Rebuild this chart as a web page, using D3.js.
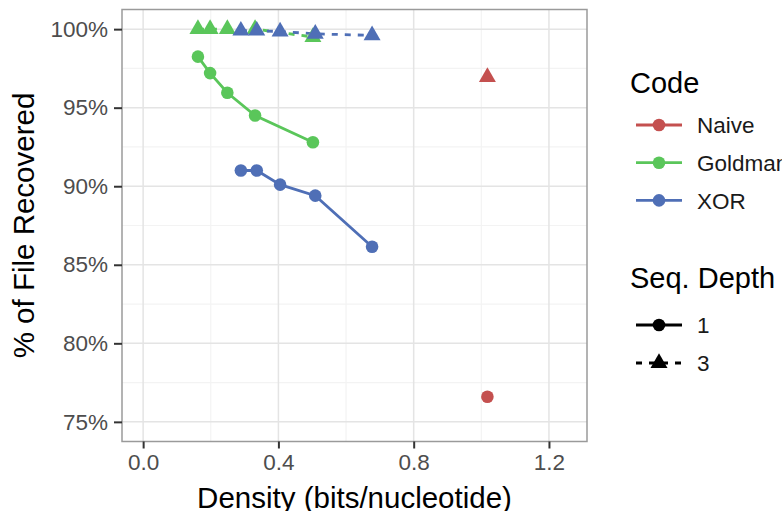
<!DOCTYPE html>
<html>
<head>
<meta charset="utf-8">
<script src="https://cdn.jsdelivr.net/npm/d3@7"></script>
<style>
  body { margin: 0; background: #fff; }
  svg { display: block; font-family: "Liberation Sans", Arial, Helvetica, sans-serif; }
</style>
</head>
<body>
<svg id="chart" width="782" height="511"></svg>
<script>
// Values
const codes = ["Naive", "Goldman", "XOR"];
const depths = ["1", "3"];

const naiveDensity = [1.018];
const naiveDepth1 = [76.6];
const naiveDepth3 = [96.95];

const goldmanDensity = [0.162, 0.198, 0.249, 0.331, 0.502];
const goldmanDepth1 = [98.25, 97.2, 95.95, 94.5, 92.8];
const goldmanDepth3 = [100, 100, 100, 100, 99.5];

const xorDensity = [0.289, 0.336, 0.405, 0.509, 0.677];
const xorDepth1 = [91.0, 91.0, 90.1, 89.4, 86.15];
const xorDepth3 = [99.9, 99.9, 99.85, 99.7, 99.6];

const xTicks = [0, 0.4, 0.8, 1.2];
const xMinor = [0.2, 0.6, 1.0];
const yTicks = [75, 80, 85, 90, 95, 100];
const yMinor = [77.5, 82.5, 87.5, 92.5, 97.5];

// build series (one per code x depth)
const series = [
  { code: "Naive", depth: "1", x: naiveDensity, y: naiveDepth1 },
  { code: "Naive", depth: "3", x: naiveDensity, y: naiveDepth3 },
  { code: "Goldman", depth: "1", x: goldmanDensity, y: goldmanDepth1 },
  { code: "Goldman", depth: "3", x: goldmanDensity, y: goldmanDepth3 },
  { code: "XOR", depth: "1", x: xorDensity, y: xorDepth1 },
  { code: "XOR", depth: "3", x: xorDensity, y: xorDepth3 }
].map(s => ({ ...s, points: s.x.map((v, i) => ({ x: v, y: s.y[i] })) }));

const panel = { left: 122, right: 587, top: 9.5, bottom: 441.5 };

const svg = d3.select("#chart");

// limits 0..1.25 and 75..100 with ggplot's 5% expansion
const xScale = d3.scaleLinear()
  .domain([0 - 0.0625, 1.25 + 0.0625])
  .range([panel.left, panel.right]);
const yScale = d3.scaleLinear()
  .domain([75 - 1.25, 100 + 1.25])
  .range([panel.bottom, panel.top]);

const color = d3.scaleOrdinal()
  .domain(codes)
  .range(["#c4504f", "#5ac65a", "#4f6fb6"]);

const dash = d3.scaleOrdinal()
  .domain(depths)
  .range([null, "6,7"]);

// gridlines
const grid = svg.append("g");
grid.selectAll("line.xminor").data(xMinor).join("line")
  .attr("x1", d => xScale(d)).attr("x2", d => xScale(d))
  .attr("y1", panel.top).attr("y2", panel.bottom)
  .attr("stroke", "#f3f3f3").attr("stroke-width", 1.2);
grid.selectAll("line.yminor").data(yMinor).join("line")
  .attr("y1", d => yScale(d)).attr("y2", d => yScale(d))
  .attr("x1", panel.left).attr("x2", panel.right)
  .attr("stroke", "#f3f3f3").attr("stroke-width", 1.2);
grid.selectAll("line.xmajor").data(xTicks).join("line")
  .attr("x1", d => xScale(d)).attr("x2", d => xScale(d))
  .attr("y1", panel.top).attr("y2", panel.bottom)
  .attr("stroke", "#e4e4e4").attr("stroke-width", 1.5);
grid.selectAll("line.ymajor").data(yTicks).join("line")
  .attr("y1", d => yScale(d)).attr("y2", d => yScale(d))
  .attr("x1", panel.left).attr("x2", panel.right)
  .attr("stroke", "#e4e4e4").attr("stroke-width", 1.5);

// lines
const line = d3.line().x(d => xScale(d.x)).y(d => yScale(d.y));
svg.append("g").selectAll("path")
  .data(series.filter(s => s.points.length > 1))
  .join("path")
    .attr("d", s => line(s.points))
    .attr("fill", "none")
    .attr("stroke", s => color(s.code))
    .attr("stroke-width", 2.8)
    .attr("stroke-dasharray", s => dash(s.depth));

// points
const triangle = d3.symbol().type(d3.symbolTriangle).size(125);
const pts = svg.append("g");
series.forEach(s => {
  s.points.forEach(p => {
    if (s.depth === "1") {
      pts.append("circle")
        .attr("cx", xScale(p.x)).attr("cy", yScale(p.y))
        .attr("r", 6.3)
        .attr("fill", color(s.code));
    } else {
      pts.append("path")
        .attr("d", triangle())
        .attr("transform", `translate(${xScale(p.x)},${yScale(p.y)})`)
        .attr("fill", color(s.code));
    }
  });
});

// panel border
svg.append("rect")
  .attr("x", panel.left).attr("y", panel.top)
  .attr("width", panel.right - panel.left)
  .attr("height", panel.bottom - panel.top)
  .attr("fill", "none")
  .attr("stroke", "#9a9a9a")
  .attr("stroke-width", 1.5);

// axes
const xAxis = svg.append("g")
  .attr("transform", `translate(0,${panel.bottom})`)
  .call(d3.axisBottom(xScale).tickValues(xTicks).tickFormat(d3.format(".1f")).tickSize(7).tickPadding(6));
const yAxis = svg.append("g")
  .attr("transform", `translate(${panel.left},0)`)
  .call(d3.axisLeft(yScale).tickValues(yTicks).tickFormat(d => d + "%").tickSize(8).tickPadding(6));

[xAxis, yAxis].forEach(a => {
  a.select(".domain").remove();
  a.selectAll(".tick line").attr("stroke", "#333").attr("stroke-width", 2);
  a.selectAll(".tick text")
    .attr("fill", "#4d4d4d")
    .style("font-size", "22.5px")
    .style("font-family", "'Liberation Sans', Arial, sans-serif");
});

// axis titles
svg.append("text")
  .attr("x", (panel.left + panel.right) / 2)
  .attr("y", 508)
  .attr("text-anchor", "middle")
  .style("font-size", "29.5px")
  .attr("fill", "#000")
  .text("Density (bits/nucleotide)");

svg.append("text")
  .attr("transform", `translate(34,${(panel.top + panel.bottom) / 2}) rotate(-90)`)
  .attr("text-anchor", "middle")
  .style("font-size", "29.5px")
  .attr("fill", "#000")
  .text("% of File Recovered");

// legends
const legend = svg.append("g");
const keyX0 = 636, keyX1 = 682, keyMid = 659, labelX = 697;

legend.append("text")
  .attr("x", 630).attr("y", 93)
  .style("font-size", "29px")
  .text("Code");

codes.forEach((c, i) => {
  const y = 125 + i * 37.7;
  legend.append("line")
    .attr("x1", keyX0).attr("x2", keyX1).attr("y1", y).attr("y2", y)
    .attr("stroke", color(c)).attr("stroke-width", 2.8);
  legend.append("circle")
    .attr("cx", keyMid).attr("cy", y).attr("r", 6.3)
    .attr("fill", color(c));
  legend.append("text")
    .attr("x", labelX).attr("y", y)
    .attr("dy", "0.36em")
    .style("font-size", "22.5px")
    .attr("fill", "#1a1a1a")
    .text(c);
});

legend.append("text")
  .attr("x", 630).attr("y", 288)
  .style("font-size", "29px")
  .text("Seq. Depth");

depths.forEach((d, i) => {
  const y = 325 + i * 38;
  legend.append("line")
    .attr("x1", keyX0).attr("x2", keyX1).attr("y1", y).attr("y2", y)
    .attr("stroke", "#000").attr("stroke-width", 2.8)
    .attr("stroke-dasharray", dash(d));
  if (d === "1") {
    legend.append("circle")
      .attr("cx", keyMid).attr("cy", y).attr("r", 6.3)
      .attr("fill", "#000");
  } else {
    legend.append("path")
      .attr("d", triangle())
      .attr("transform", `translate(${keyMid},${y})`)
      .attr("fill", "#000");
  }
  legend.append("text")
    .attr("x", labelX).attr("y", y)
    .attr("dy", "0.36em")
    .style("font-size", "22.5px")
    .attr("fill", "#1a1a1a")
    .text(d);
});
</script>
</body>
</html>
